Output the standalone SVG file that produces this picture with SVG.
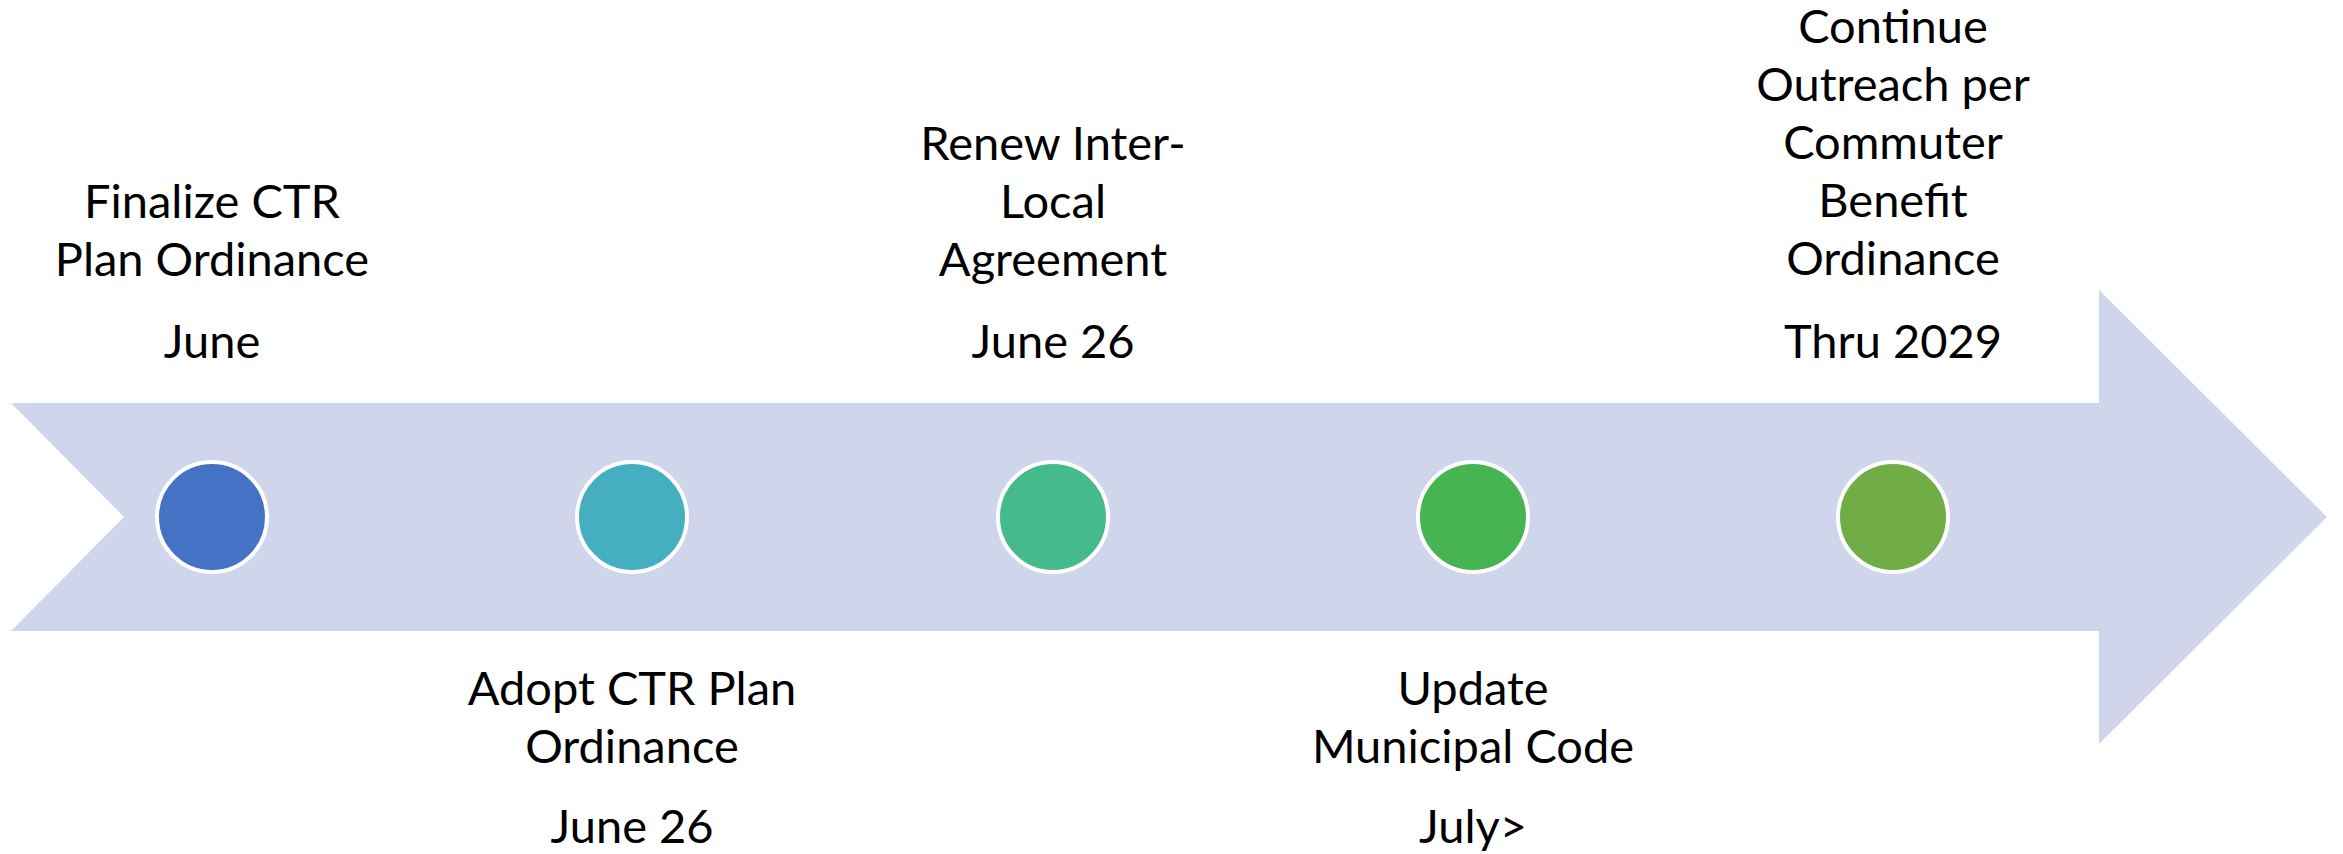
<svg xmlns="http://www.w3.org/2000/svg" width="2343" height="854" viewBox="0 0 2343 854">
<style>
.lbl{font-family:Lato,"Liberation Sans",sans-serif;font-size:47px;fill:#000;text-anchor:middle}
.dot{stroke:#fff;stroke-width:4}
</style>
<rect width="2343" height="854" fill="#fff"/>
<g id="connectors">
<polygon points="11,403 2099,403 2099,290 2327,517 2099,744 2099,631 11,631 124,517" fill="#CFD5EA"/>
</g>
<g id="node1">
<circle class="dot" cx="212" cy="517" r="55" fill="#4472C4"/>
<text class="lbl"><tspan x="212" y="218">Finalize CTR</tspan><tspan x="212" y="276">Plan Ordinance</tspan><tspan x="212" y="358">June</tspan></text>
</g>
<g id="node2">
<circle class="dot" cx="632" cy="517" r="55" fill="#43AFC0"/>
<text class="lbl"><tspan x="632" y="705">Adopt CTR Plan</tspan><tspan x="632" y="763">Ordinance</tspan><tspan x="632" y="843">June 26</tspan></text>
</g>
<g id="node3">
<circle class="dot" cx="1053" cy="517" r="55" fill="#44BA8D"/>
<text class="lbl"><tspan x="1053" y="160">Renew Inter-</tspan><tspan x="1053" y="218">Local</tspan><tspan x="1053" y="276">Agreement</tspan><tspan x="1053" y="358">June 26</tspan></text>
</g>
<g id="node4">
<circle class="dot" cx="1473" cy="517" r="55" fill="#46B450"/>
<text class="lbl"><tspan x="1473" y="705">Update</tspan><tspan x="1473" y="763">Municipal Code</tspan><tspan x="1473" y="843">July&gt;</tspan></text>
</g>
<g id="node5">
<circle class="dot" cx="1893" cy="517" r="55" fill="#70AD47"/>
<text class="lbl"><tspan x="1893" y="43">Continue</tspan><tspan x="1893" y="101">Outreach per</tspan><tspan x="1893" y="159">Commuter</tspan><tspan x="1893" y="217">Benefit</tspan><tspan x="1893" y="275">Ordinance</tspan><tspan x="1893" y="358">Thru 2029</tspan></text>
</g>
</svg>
